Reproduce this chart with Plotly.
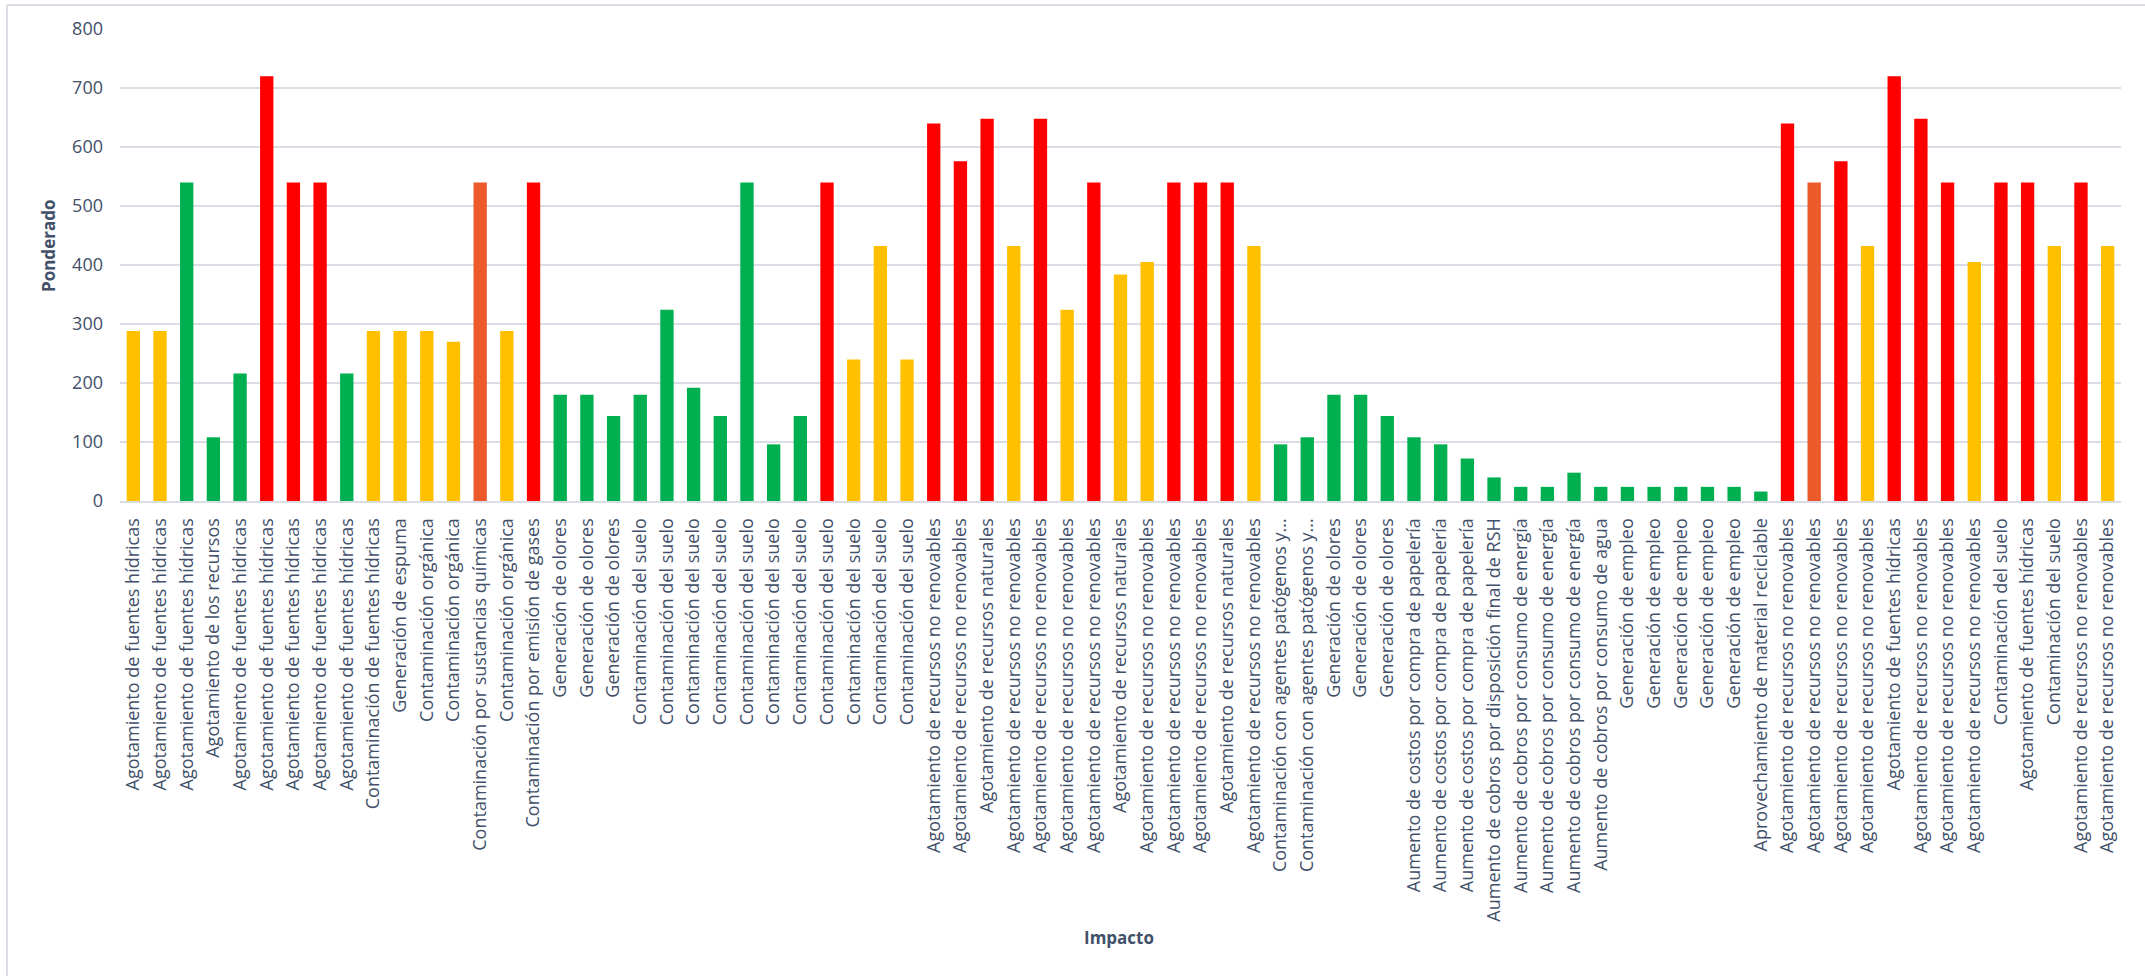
import plotly.graph_objects as go

impactos = [
    "Agotamiento de fuentes hídricas", "Agotamiento de fuentes hídricas", "Agotamiento de fuentes hídricas",
    "Agotamiento de los recursos", "Agotamiento de fuentes hídricas", "Agotamiento de fuentes hídricas",
    "Agotamiento de fuentes hídricas", "Agotamiento de fuentes hídricas", "Agotamiento de fuentes hídricas",
    "Contaminación de fuentes hídricas", "Generación de espuma", "Contaminación orgánica",
    "Contaminación orgánica", "Contaminación por sustancias químicas", "Contaminación orgánica",
    "Contaminación por emisión de gases", "Generación de olores", "Generación de olores",
    "Generación de olores", "Contaminación del suelo", "Contaminación del suelo",
    "Contaminación del suelo", "Contaminación del suelo", "Contaminación del suelo",
    "Contaminación del suelo", "Contaminación del suelo", "Contaminación del suelo",
    "Contaminación del suelo", "Contaminación del suelo", "Contaminación del suelo",
    "Agotamiento de recursos no renovables", "Agotamiento de recursos no renovables", "Agotamiento de recursos naturales",
    "Agotamiento de recursos no renovables", "Agotamiento de recursos no renovables", "Agotamiento de recursos no renovables",
    "Agotamiento de recursos no renovables", "Agotamiento de recursos naturales", "Agotamiento de recursos no renovables",
    "Agotamiento de recursos no renovables", "Agotamiento de recursos no renovables", "Agotamiento de recursos naturales",
    "Agotamiento de recursos no renovables", "Contaminación con agentes patógenos y...", "Contaminación con agentes patógenos y...",
    "Generación de olores", "Generación de olores", "Generación de olores",
    "Aumento de costos por compra de papelería", "Aumento de costos por compra de papelería", "Aumento de costos por compra de papelería",
    "Aumento de cobros por disposición final de RSH", "Aumento de cobros por consumo de energía", "Aumento de cobros por consumo de energía",
    "Aumento de cobros por consumo de energía", "Aumento de cobros por consumo de agua", "Generación de empleo",
    "Generación de empleo", "Generación de empleo", "Generación de empleo",
    "Generación de empleo", "Aprovechamiento de material reciclable", "Agotamiento de recursos no renovables",
    "Agotamiento de recursos no renovables", "Agotamiento de recursos no renovables", "Agotamiento de recursos no renovables",
    "Agotamiento de fuentes hídricas", "Agotamiento de recursos no renovables", "Agotamiento de recursos no renovables",
    "Agotamiento de recursos no renovables", "Contaminación del suelo", "Agotamiento de fuentes hídricas",
    "Contaminación del suelo", "Agotamiento de recursos no renovables", "Agotamiento de recursos no renovables",
]

ponderado = [
    288, 288, 540, 108, 216, 720, 540, 540, 216, 288,
    288, 288, 270, 540, 288, 540, 180, 180, 144, 180,
    324, 192, 144, 540, 96, 144, 540, 240, 432, 240,
    640, 576, 648, 432, 648, 324, 540, 384, 405, 540,
    540, 540, 432, 96, 108, 180, 180, 144, 108, 96,
    72, 40, 24, 24, 48, 24, 24, 24, 24, 24,
    24, 16, 640, 540, 576, 432, 720, 648, 540, 405,
    540, 540, 432, 540, 432,
]

nivel = [
    "M", "M", "B", "B", "B", "C", "C", "C", "B", "M",
    "M", "M", "M", "A", "M", "C", "B", "B", "B", "B",
    "B", "B", "B", "B", "B", "B", "C", "M", "M", "M",
    "C", "C", "C", "M", "C", "M", "C", "M", "M", "C",
    "C", "C", "M", "B", "B", "B", "B", "B", "B", "B",
    "B", "B", "B", "B", "B", "B", "B", "B", "B", "B",
    "B", "B", "C", "A", "C", "M", "C", "C", "C", "M",
    "C", "C", "M", "C", "M",
]

y_ticks = [0, 100, 200, 300, 400, 500, 600, 700, 800]

colores = {"B": "#00B050", "M": "#FFC000", "A": "#EC5A2B", "C": "#FF0000"}
text_color = "#42506A"
font_family = "Open Sans"

W, H = 2145, 976
L, R, T, B = 120, 24, 29, 475
pw, ph = W - L - R, H - T - B

def px(xp):
    return (xp - L) / pw

def py(yp):
    return (H - B - yp) / ph

pos = list(range(len(ponderado)))

fig = go.Figure(
    go.Bar(
        x=pos,
        y=ponderado,
        marker=dict(color=[colores[n] for n in nivel], line=dict(width=0)),
        hovertext=impactos,
    )
)

fig.update_layout(
    width=W,
    height=H,
    margin=dict(l=L, r=R, t=T, b=B),
    paper_bgcolor="white",
    plot_bgcolor="white",
    bargap=0.5,
    showlegend=False,
    font=dict(family=font_family, color=text_color),
    xaxis=dict(
        tickmode="array",
        tickvals=pos,
        ticktext=impactos,
        tickangle=-90,
        tickfont=dict(size=18, color=text_color, family=font_family),
        range=[-0.5, len(pos) - 0.5],
        showgrid=False,
        showline=True,
        linecolor="#D9DDE5",
        linewidth=2,
        ticks="",
        ticklabelstandoff=8,
        zeroline=False,
    ),
    yaxis=dict(
        range=[0, 800],
        tickvals=y_ticks,
        tickfont=dict(size=18, color=text_color, family=font_family),
        showgrid=True,
        gridcolor="#D9DDE5",
        gridwidth=2,
        zeroline=False,
        showline=False,
        ticks="",
        ticklabelstandoff=16,
    ),
    annotations=[
        dict(
            text="<b>Ponderado</b>", xref="paper", yref="paper",
            x=px(48), y=py(246), textangle=-90, showarrow=False,
            font=dict(size=17, color=text_color, family=font_family),
            xanchor="center", yanchor="middle",
        ),
        dict(
            text="<b>Impacto</b>", xref="paper", yref="paper",
            x=px(1119), y=py(938), showarrow=False,
            font=dict(size=17, color=text_color, family=font_family),
            xanchor="center", yanchor="middle",
        ),
    ],
    shapes=[
        dict(type="line", xref="paper", yref="paper", x0=px(7), x1=px(W + 10), y0=py(5), y1=py(5),
             line=dict(color="#D9DDE5", width=2)),
        dict(type="line", xref="paper", yref="paper", x0=px(7), x1=px(7), y0=py(5), y1=py(H + 10),
             line=dict(color="#D9DDE5", width=2)),
    ],
)

fig.write_html(
    "out.html",
    config={"displayModeBar": False},
    post_script="document.body.style.margin='0';document.body.style.overflow='hidden';",
)
